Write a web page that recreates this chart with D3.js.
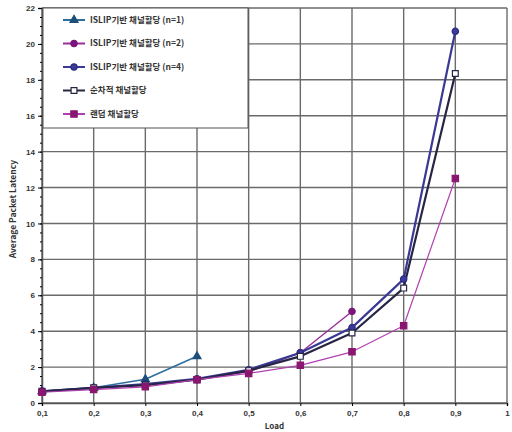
<!DOCTYPE html>
<html>
<head>
<meta charset="utf-8">
<script src="https://cdn.jsdelivr.net/npm/d3@7"></script>
<style>
  body { margin: 0; background: #fff; }
  svg { display: block; font-family: 'Noto Sans CJK KR', 'DejaVu Sans', sans-serif; }
</style>
</head>
<body>
<svg width="512" height="432"></svg>
<script>
const loads = [0.1, 0.2, 0.3, 0.4, 0.5, 0.6, 0.7, 0.8, 0.9]
const islip1 = [0.65, 0.85, 1.32, 2.6]
const islip2 = [0.65, 0.8, 1.0, 1.3, 1.75, 2.8, 5.1]
const islip4 = [0.65, 0.85, 1.05, 1.35, 1.85, 2.8, 4.2, 6.9, 20.7]
const sequential = [0.65, 0.85, 1.0, 1.3, 1.8, 2.6, 3.9, 6.4, 18.35]
const random = [0.6, 0.75, 0.9, 1.3, 1.65, 2.1, 2.85, 4.3, 12.5]
const xTicks = [0.1, 0.2, 0.3, 0.4, 0.5, 0.6, 0.7, 0.8, 0.9, 1]
const xTickLabels = ['0,1', '0,2', '0,3', '0,4', '0,5', '0,6', '0,7', '0,8', '0,9', '1']
const yTicks = [0, 2, 4, 6, 8, 10, 12, 14, 16, 18, 20, 22]
const legendLabels = [
  'ISLIP기반 채널할당 (n=1)',
  'ISLIP기반 채널할당 (n=2)',
  'ISLIP기반 채널할당 (n=4)',
  '순차적 채널할당',
  '랜덤 채널할당'
]

const series = [
  { values: islip1, line: '#2f6f9f', fill: '#1d4f7a', stroke: '#1d4f7a', shape: d3.symbolTriangle, size: 28, width: 1.6 },
  { values: islip2, line: '#9a2e9a', fill: '#7a167a', stroke: '#7a167a', shape: d3.symbolCircle, size: 32, width: 1.4 },
  { values: islip4, line: '#3a3a96', fill: '#3b3b9c', stroke: '#2a2a80', shape: d3.symbolCircle, size: 32, width: 2.2 },
  { values: sequential, line: '#262644', fill: '#ffffff', stroke: '#262644', shape: d3.symbolSquare, size: 34, width: 2.2 },
  { values: random, line: '#b040b0', fill: '#8a1670', stroke: '#8a1670', shape: d3.symbolSquare, size: 40, width: 1.2 }
]

const svg = d3.select('svg')
const margin = { top: 8, right: 5, bottom: 29, left: 42 }
const width = +svg.attr('width') - margin.left - margin.right
const height = +svg.attr('height') - margin.top - margin.bottom
const g = svg.append('g').attr('transform', 'translate(' + margin.left + ',' + margin.top + ')')

const x = d3.scaleLinear().domain([0.1, 1]).range([0, width])
const y = d3.scaleLinear().domain([0, 22]).range([height, 0])

// grid
g.append('g')
  .selectAll('line.h')
  .data(yTicks)
  .join('line')
  .attr('x1', 0).attr('x2', width)
  .attr('y1', d => y(d)).attr('y2', d => y(d))
  .attr('stroke', '#6a6a6a').attr('stroke-width', 1.4)
g.append('g')
  .selectAll('line.v')
  .data(xTicks)
  .join('line')
  .attr('x1', d => x(d)).attr('x2', d => x(d))
  .attr('y1', 0).attr('y2', height)
  .attr('stroke', '#6a6a6a').attr('stroke-width', 1.4)

// y axis
const yAxis = g.append('g')
  .call(d3.axisLeft(y).tickValues(yTicks).tickSize(4).tickFormat(d3.format('d')))
yAxis.select('.domain').attr('stroke', '#555').attr('stroke-width', 1.5)
yAxis.selectAll('text').attr('font-size', 8).attr('font-weight', 'bold').attr('fill', '#333')
g.append('g')
  .call(d3.axisLeft(y).tickValues(d3.range(0, 22.01, 0.5)).tickSize(2).tickFormat(''))
  .select('.domain').remove()

// x axis
const xAxis = g.append('g')
  .attr('transform', 'translate(0,' + height + ')')
  .call(d3.axisBottom(x).tickValues(xTicks).tickSize(3).tickFormat((d, i) => xTickLabels[i]))
xAxis.select('.domain').attr('stroke', '#555').attr('stroke-width', 1.5)
xAxis.selectAll('text').attr('font-size', 8).attr('font-weight', 'bold').attr('fill', '#333').attr('dy', '0.9em')

g.append('text')
  .attr('x', x(0.55)).attr('y', height + 26)
  .attr('text-anchor', 'middle')
  .attr('font-size', 8).attr('font-weight', 'bold').attr('fill', '#333')
  .text('Load')

g.append('text')
  .attr('transform', 'rotate(-90)')
  .attr('x', -y(10.8)).attr('y', -26)
  .attr('text-anchor', 'middle')
  .attr('font-size', 8.5).attr('font-weight', 'bold').attr('fill', '#333')
  .text('Average Packet Latency')

// lines and markers
const line = d3.line()
  .x((d, i) => x(loads[i]))
  .y(d => y(d))

series.forEach(s => {
  g.append('path')
    .datum(s.values)
    .attr('fill', 'none')
    .attr('stroke', s.line)
    .attr('stroke-width', s.width)
    .attr('stroke-linejoin', 'round')
    .attr('d', line)
})
series.forEach(s => {
  g.append('g')
    .selectAll('path')
    .data(s.values)
    .join('path')
    .attr('transform', (d, i) => 'translate(' + x(loads[i]) + ',' + y(d) + ')')
    .attr('d', d3.symbol().type(s.shape).size(s.size))
    .attr('fill', s.fill)
    .attr('stroke', s.stroke)
    .attr('stroke-width', 1.2)
})

// legend
const legend = g.append('g').attr('transform', 'translate(1,0)')
legend.append('rect')
  .attr('width', 205).attr('height', 120)
  .attr('fill', '#fff')
  .attr('stroke', '#555').attr('stroke-width', 1)
const rows = legend.selectAll('g.row')
  .data(series)
  .join('g')
  .attr('transform', (d, i) => 'translate(0,' + (12 + i * 23.5) + ')')
rows.append('line')
  .attr('x1', 20).attr('x2', 42)
  .attr('stroke', d => d.line).attr('stroke-width', 2)
rows.append('path')
  .attr('transform', 'translate(31,0)')
  .attr('d', d => d3.symbol().type(d.shape).size(d.size)())
  .attr('fill', d => d.fill)
  .attr('stroke', d => d.stroke)
  .attr('stroke-width', 1.2)
rows.append('text')
  .attr('x', 47).attr('dy', '0.35em')
  .attr('font-size', 8.5).attr('font-weight', 'bold').attr('fill', '#333')
  .text((d, i) => legendLabels[i])
</script>
</body>
</html>
